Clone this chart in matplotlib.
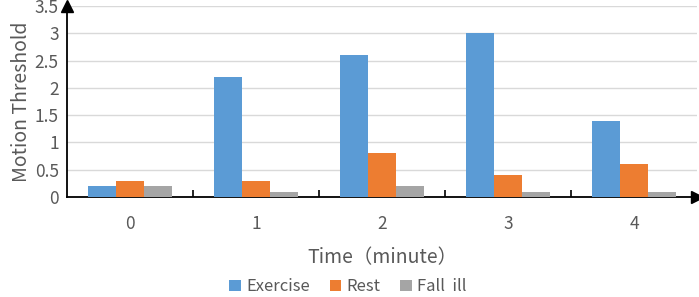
import numpy as np
import matplotlib.pyplot as plt

plt.rcParams['font.family'] = ['Noto Sans CJK SC', 'DejaVu Sans']

minutes = ['0', '1', '2', '3', '4']
exercise = [0.2, 2.2, 2.6, 3.0, 1.4]
rest = [0.3, 0.3, 0.8, 0.4, 0.6]
fall_ill = [0.2, 0.1, 0.2, 0.1, 0.1]

colors = ['#5B9BD5', '#ED7D31', '#A5A5A5']
txt = '#595959'

fig = plt.figure(figsize=(6.99, 2.97), dpi=100)
ax = fig.add_axes([67 / 699, 1 - 197 / 297, 630 / 699, 191 / 297])

x = np.arange(len(minutes))
w = 0.22
ax.bar(x - w, exercise, w, color=colors[0], label='Exercise', zorder=3)
ax.bar(x, rest, w, color=colors[1], label='Rest', zorder=3)
ax.bar(x + w, fall_ill, w, color=colors[2], label='Fall  ill', zorder=3)

ax.set_xlim(-0.5, 4.5)
ax.set_ylim(0, 3.5)
ax.set_yticks(np.arange(0, 3.51, 0.5))
ax.set_yticklabels(['0', '0.5', '1', '1.5', '2', '2.5', '3', '3.5'])
ax.yaxis.grid(True, color='#d9d9d9', linewidth=1, zorder=0)

ax.set_xticks(x)
ax.set_xticklabels(minutes)
ax.set_xticks(np.arange(0.5, 4.0, 1), minor=True)
ax.tick_params(axis='x', which='major', length=0, pad=13, labelsize=12.5, labelcolor=txt)
ax.tick_params(axis='x', which='minor', length=5, width=1.2, direction='in', color='black')
ax.tick_params(axis='y', length=0, pad=6, labelsize=12.5, labelcolor=txt)

for s in ['top', 'right']:
    ax.spines[s].set_visible(False)
ax.spines['left'].set_linewidth(1.3)
ax.spines['bottom'].set_linewidth(1.3)
ax.plot(1, 0, '>', color='black', markersize=8, transform=ax.transAxes, clip_on=False, zorder=5)
ax.plot(0, 1, '^', color='black', markersize=8, transform=ax.transAxes, clip_on=False, zorder=5)

ax.set_ylabel('Motion Threshold', fontsize=14, color=txt, labelpad=2)
ax.set_xlabel('Time（minute）', fontsize=14, color=txt, labelpad=10)

fig.legend(loc='lower center', bbox_to_anchor=(348 / 699, -0.045), ncol=3, frameon=False,
           fontsize=12, labelcolor=txt, handlelength=0.7, handleheight=0.7,
           handletextpad=0.3, columnspacing=1.2)

fig.savefig('out.png', dpi=100)
